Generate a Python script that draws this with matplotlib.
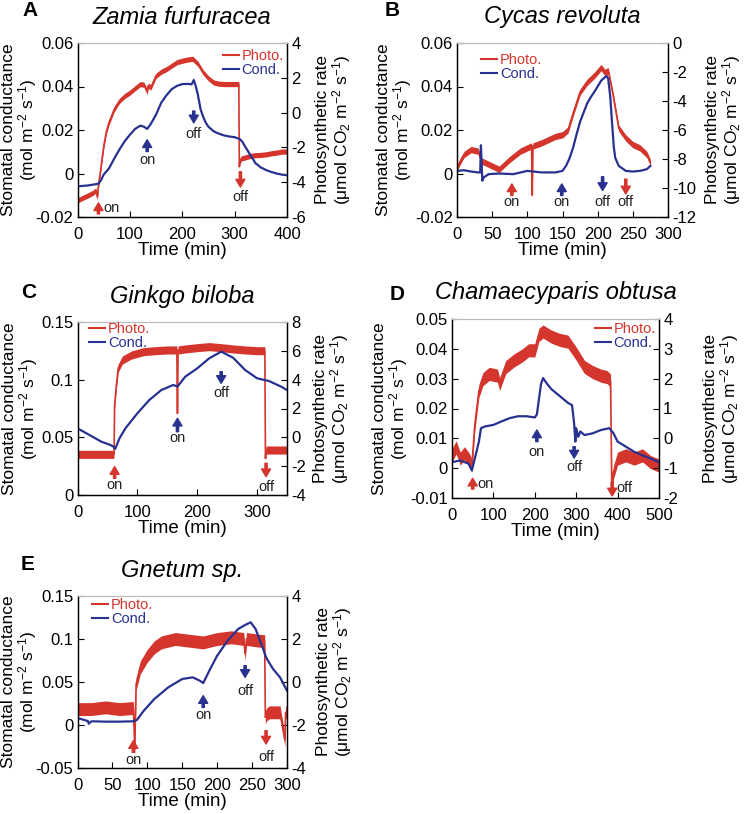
import matplotlib
matplotlib.use("Agg")
import matplotlib.pyplot as plt
from matplotlib.lines import Line2D
import numpy as np

plt.rcParams['font.family'] = ['Liberation Sans', 'DejaVu Sans']
plt.rcParams['mathtext.fontset'] = 'custom'
plt.rcParams['mathtext.rm'] = 'Liberation Sans'
plt.rcParams['mathtext.it'] = 'Liberation Sans:italic'

RED = '#d4352c'
BLUE = '#28318f'

# ---- A: Zamia furfuracea ----
cond_a_t = [0, 20, 40, 45, 50, 60, 70, 80, 90, 100, 110, 120, 127, 133, 140, 150, 160, 170, 180, 190,
            200, 210, 218, 222, 226, 230, 235, 240, 245, 250, 260, 270, 280, 290, 300, 310, 315, 320,
            330, 340, 350, 360, 370, 380, 390, 400]
cond_a = [-0.0059, -0.0055, -0.0047, -0.003, -0.0005, 0.0023, 0.0068, 0.011, 0.0148, 0.0178, 0.0205,
          0.022, 0.0215, 0.0205, 0.0228, 0.0271, 0.0326, 0.036, 0.0388, 0.0403, 0.0411, 0.0412, 0.041,
          0.043, 0.040, 0.036, 0.0295, 0.026, 0.0233, 0.0215, 0.0194, 0.0183, 0.0175, 0.017, 0.0167,
          0.0158, 0.0145, 0.0124, 0.0085, 0.0047, 0.0028, 0.0016, 0.0007, 0.0, -0.0005, -0.0008]
photo_a_t = [0, 10, 20, 30, 35, 38, 40, 45, 50, 55, 60, 70, 80, 90, 100, 110, 120, 127, 133, 135, 140,
             150, 160, 170, 180, 190, 200, 210, 220, 230, 240, 250, 260, 270, 280, 290, 300, 308, 309,
             310, 313, 320, 330, 340, 350, 360, 370, 380, 390, 400]
photo_a = [-5.05, -4.9, -4.76, -4.6, -4.47, -4.86, -4.2, -3.11, -1.95, -1.1, -0.59, 0.18, 0.67, 0.95,
           1.15, 1.4, 1.64, 1.6, 1.2, 1.55, 1.44, 2.12, 2.35, 2.5, 2.7, 2.9, 2.98, 3.05, 3.09, 2.8, 2.31,
           1.97, 1.73, 1.66, 1.64, 1.64, 1.64, 1.64, -3.11, -2.82, -2.63, -2.58, -2.49, -2.45, -2.43,
           -2.4, -2.34, -2.3, -2.24, -2.24]

# ---- B: Cycas revoluta ----
cond_b_t = [0, 10, 20, 30, 33, 34, 36, 38, 45, 60, 80, 100, 120, 140, 150, 155, 160, 165, 170, 175,
            180, 185, 190, 195, 200, 205, 210, 213, 215, 218, 220, 223, 225, 230, 240, 250, 260, 270, 275]
cond_b = [0.0012, 0.0015, 0.0009, 0.0005, 0.0005, 0.013, -0.0033, -0.0018, -0.0003, 0.0, -0.0003,
          0.0012, 0.0005, 0.0005, 0.0012, 0.0035, 0.007, 0.0118, 0.018, 0.0238, 0.028, 0.0322, 0.035,
          0.0374, 0.040, 0.0427, 0.0442, 0.0448, 0.0435, 0.035, 0.0254, 0.012, 0.0072, 0.0035, 0.0012,
          0.0009, 0.0012, 0.002, 0.0035]
photo_b_t = [0, 10, 20, 30, 35, 40, 50, 60, 65, 75, 90, 100, 106, 107, 108, 120, 140, 150, 158, 165,
             175, 185, 195, 205, 210, 215, 222, 230, 240, 250, 260, 270, 275]
photo_b = [-8.59, -7.69, -7.35, -7.46, -8.14, -8.25, -8.48, -8.71, -8.48, -8.03, -7.46, -7.23, -7.1,
           -10.5, -7.1, -6.89, -6.44, -6.33, -5.99, -4.86, -3.39, -2.71, -2.25, -1.69, -2.03, -1.91,
           -3.61, -5.88, -6.55, -7.01, -7.23, -7.69, -8.25]

# ---- C: Ginkgo biloba ----
cond_c_t = [0, 20, 40, 55, 60, 63, 70, 80, 100, 120, 140, 160, 167, 180, 200, 220, 240, 260, 280, 300,
            320, 340, 350]
cond_c = [0.0578, 0.052, 0.0462, 0.0434, 0.0419, 0.040, 0.049, 0.0578, 0.0708, 0.0824, 0.091, 0.0954,
          0.094, 0.1026, 0.1098, 0.1185, 0.1243, 0.119, 0.1084, 0.1012, 0.0988, 0.094, 0.091]
photo_c_t = [0, 20, 40, 61, 62, 65, 68, 75, 90, 110, 130, 150, 166, 167, 168, 180, 200, 220, 240, 260,
             280, 300, 313, 314, 315, 320, 335, 350]
photo_c = [-1.18, -1.18, -1.18, -1.18, 2.24, 3.63, 4.79, 5.36, 5.71, 5.94, 6.01, 6.06, 6.06, 1.66,
           6.06, 6.13, 6.22, 6.29, 6.22, 6.13, 6.06, 6.01, 6.01, -1.46, -0.88, -0.88, -0.88, -0.88]

# ---- D: Chamaecyparis obtusa ----
cond_d_t = [0, 20, 40, 48, 55, 65, 70, 80, 100, 120, 140, 160, 180, 200, 205, 215, 220, 230, 240, 260,
            280, 290, 295, 298, 300, 305, 310, 320, 340, 360, 380, 390, 400, 420, 440, 460, 480, 500]
cond_d = [0.002, 0.0026, 0.0015, -0.0008, 0.0032, 0.0089, 0.0134, 0.014, 0.0145, 0.0157, 0.0168,
          0.0174, 0.0174, 0.017, 0.018, 0.0282, 0.0302, 0.0282, 0.0265, 0.0242, 0.0219, 0.0211, 0.015,
          0.0089, 0.0134, 0.0105, 0.0123, 0.0111, 0.0117, 0.0128, 0.0134, 0.0117, 0.0089, 0.0072,
          0.0055, 0.0043, 0.0032, 0.002]
photo_d_t = [0, 10, 20, 30, 40, 48, 55, 65, 75, 90, 110, 115, 130, 150, 170, 185, 200, 210, 220, 240,
             260, 280, 300, 320, 340, 360, 375, 383, 386, 390, 400, 420, 440, 460, 480, 500]
photo_d = [-0.57, -0.3, -0.68, -0.5, -0.68, -0.91, 0.45, 1.59, 1.99, 2.16, 2.1, 1.82, 2.39, 2.61, 2.78,
           2.95, 2.95, 3.47, 3.58, 3.41, 3.3, 3.24, 2.84, 2.39, 2.22, 2.1, 2.05, 1.93, -1.7, -1.14,
           -0.68, -0.57, -0.68, -0.57, -0.8, -0.91]

# ---- E: Gnetum sp. ----
cond_e_t = [0, 10, 15, 16, 20, 40, 60, 80, 85, 95, 110, 130, 150, 165, 175, 180, 190, 200, 215, 230,
            240, 248, 255, 265, 270, 280, 290, 300]
cond_e = [0.0081, 0.0058, 0.0045, 0.0015, 0.0043, 0.0039, 0.0039, 0.0043, 0.0058, 0.0167, 0.0302,
          0.0438, 0.0535, 0.0554, 0.0516, 0.0488, 0.0651, 0.0806, 0.0981, 0.1116, 0.1163, 0.1194,
          0.1116, 0.0903, 0.0787, 0.0651, 0.0554, 0.0399]
photo_e_t = [0, 1, 2, 20, 40, 60, 80, 82, 84, 90, 100, 110, 120, 140, 160, 180, 200, 220, 238, 240,
             242, 260, 268, 269, 271, 275, 290, 297, 298, 300]
photo_e = [-3.2, -1.26, -1.26, -1.26, -1.18, -1.26, -1.21, -3.12, -0.09, 0.68, 1.22, 1.61, 1.84, 2.0,
           1.92, 1.84, 2.0, 2.08, 2.0, 1.3, 2.0, 1.92, 1.9, -1.64, -1.5, -1.41, -1.41, -2.7, -1.41, -1.41]

# light on/off markers: time, arrow tail, arrow tip, label y (conductance units), text, colour, label beside
marks_a = [(40, -0.0186, -0.0135, -0.0160, 'on', RED, True), (133, 0.0101, 0.0155, 0.0062, 'on', BLUE, False),
           (222, 0.0287, 0.0233, 0.0181, 'off', BLUE, False), (311, 0.0008, -0.0062, -0.0109, 'off', RED, False)]
marks_b = [(78, -0.0101, -0.0048, -0.0131, 'on', RED, False), (149, -0.0101, -0.0048, -0.0131, 'on', BLUE, False),
           (207, -0.0015, -0.0078, -0.0131, 'off', BLUE, False), (240, -0.0026, -0.0094, -0.0131, 'off', RED, False)]
marks_c = [(62, 0.0145, 0.0246, 0.0087, 'on', RED, False), (167, 0.0549, 0.0665, 0.0497, 'on', BLUE, False),
           (240, 0.1069, 0.0968, 0.0882, 'off', BLUE, False), (315, 0.0275, 0.0159, 0.0072, 'off', RED, False)]
marks_d = [(50, -0.0070, -0.0034, -0.0053, 'on', RED, True), (205, 0.0089, 0.0128, 0.0055, 'on', BLUE, False),
           (295, 0.0072, 0.0034, 0.0003, 'off', BLUE, False), (387, -0.0048, -0.0093, -0.0068, 'off', RED, True)]
marks_e = [(80, -0.0318, -0.0182, -0.0407, 'on', RED, False), (180, 0.0205, 0.0341, 0.0120, 'on', BLUE, False),
           (240, 0.0690, 0.0554, 0.0399, 'off', BLUE, False), (270, -0.0066, -0.0221, -0.0376, 'off', RED, False)]

W, H = 744, 814
fig = plt.figure(figsize=(W / 100, H / 100), dpi=100)


def px_axes(x0, x1, y0, y1):
    return fig.add_axes([x0 / W, 1 - y1 / H, (x1 - x0) / W, (y1 - y0) / H])


def panel(box, letter, title, ct, cv, pt, pv, spread, marks, xlim, xticks, ylim, yticks, ylim2,
          yticks2, leg_loc, leg_anchor, lab_left=20, lab_right=333):
    x0, x1, y0, y1 = box
    ax = px_axes(x0, x1, y0, y1)
    ax2 = ax.twinx()
    ax.set_zorder(ax2.get_zorder() + 1)
    ax.patch.set_visible(False)

    pt = np.array(pt)
    pv = np.array(pv)
    ax2.fill_between(pt, pv - spread, pv + spread, color=RED, lw=0)
    ax2.plot(pt, pv, color=RED, lw=1.2)
    ax.plot(ct, cv, color=BLUE, lw=1.6)

    for t, tail, tip, ly, txt, col, beside in marks:
        ax.annotate('', xy=(t, tip), xytext=(t, tail),
                    arrowprops=dict(facecolor=col, edgecolor=col, width=1.6, headwidth=6.5,
                                    headlength=5.5, shrink=0))
        if beside:
            ax.text(t + (xlim[1] - xlim[0]) * 0.022, ly, txt, fontsize=10.5, color='#222222',
                    ha='left', va='center')
        else:
            ax.text(t, ly, txt, fontsize=10.5, color='#222222', ha='center', va='center')

    ax.set_xlim(*xlim)
    ax.set_ylim(*ylim)
    ax2.set_ylim(*ylim2)
    ax.set_xticks(xticks)
    ax.set_yticks(yticks)
    ax2.set_yticks(yticks2)
    ax.set_yticklabels([('%g' % v) for v in yticks])
    ax2.set_yticklabels([('%g' % v) for v in yticks2])
    for a in (ax, ax2):
        a.tick_params(direction='in', length=4, width=0.8, labelsize=12, pad=3)
        a.spines['top'].set_color('#bbbbbb')
        for s in ('left', 'right', 'bottom'):
            a.spines[s].set_linewidth(0.9)
    ax.tick_params(axis='x', pad=7)
    ax.tick_params(right=False, top=False)
    ax.set_xlabel('Time (min)', fontsize=13.5, labelpad=0)

    handles = [Line2D([], [], color=RED, lw=1.5), Line2D([], [], color=BLUE, lw=1.5)]
    ax.legend(handles, ['Photo.', 'Cond.'], loc=leg_loc, bbox_to_anchor=leg_anchor, frameon=False,
              fontsize=10.5, handlelength=1.1, handletextpad=0.2, labelspacing=0.0, borderpad=0,
              borderaxespad=0, labelcolor=[RED, BLUE])

    yc = (y0 + y1) / 2
    fig.text(lab_left / W, 1 - yc / H, 'Stomatal conductance\n(mol m$^{-2}$ s$^{-1}$)', rotation=90,
             ha='center', va='center', multialignment='center', fontsize=12.5, linespacing=0.95)
    fig.text(lab_right / W, 1 - yc / H, 'Photosynthetic rate\n(μmol CO$_2$ m$^{-2}$ s$^{-1}$)',
             rotation=90, ha='center', va='center', multialignment='center', fontsize=12.5,
             linespacing=0.95)
    fig.text((x0 + x1) / 2 / W, 1 - (y0 - 26) / H, title, style='italic', fontsize=17,
             ha='center', va='center')
    fig.text(letter[1] / W, 1 - letter[2] / H, letter[0], fontweight='bold', fontsize=15,
             ha='center', va='center')
    return ax, ax2


panel((77.5, 287, 43, 217), ('A', 30, 11), 'Zamia furfuracea', cond_a_t, cond_a, photo_a_t, photo_a,
      0.15, marks_a, (0, 400), [0, 100, 200, 300, 400], (-0.02, 0.06), [-0.02, 0, 0.02, 0.04, 0.06],
      (-6, 4), [-6, -4, -2, 0, 2, 4], 'upper right', (0.985, 0.965), lab_left=20, lab_right=334)

panel((457, 668, 43, 217), ('B', 392, 11), 'Cycas revoluta', cond_b_t, cond_b, photo_b_t, photo_b,
      0.22, marks_b, (0, 300), [0, 50, 100, 150, 200, 250, 300], (-0.02, 0.06),
      [-0.02, 0, 0.02, 0.04, 0.06], (-12, 0), [-12, -10, -8, -6, -4, -2, 0], 'upper left',
      (0.115, 0.94), lab_left=395, lab_right=724)

panel((77.5, 287, 322, 495), ('C', 29, 293), 'Ginkgo biloba', cond_c_t, cond_c, photo_c_t, photo_c,
      0.28, marks_c, (0, 350), [0, 100, 200, 300], (0, 0.15), [0, 0.05, 0.1, 0.15], (-4, 8),
      [-4, -2, 0, 2, 4, 6, 8], 'upper left', (0.055, 1.0), lab_left=21, lab_right=332)

panel((452, 659, 319, 498), ('D', 397, 294), 'Chamaecyparis obtusa', cond_d_t, cond_d, photo_d_t,
      photo_d, 0.22, marks_d, (0, 500), [0, 100, 200, 300, 400, 500], (-0.01, 0.05),
      [-0.01, 0, 0.01, 0.02, 0.03, 0.04, 0.05], (-2, 4), [-2, -1, 0, 1, 2, 3, 4], 'upper right',
      (0.985, 0.985), lab_left=391, lab_right=722)

panel((77.5, 287, 596, 768), ('E', 28, 565), 'Gnetum sp.', cond_e_t, cond_e, photo_e_t, photo_e,
      0.3, marks_e, (0, 300), [0, 50, 100, 150, 200, 250, 300], (-0.05, 0.15),
      [-0.05, 0, 0.05, 0.1, 0.15], (-4, 4), [-4, -2, 0, 2, 4], 'upper left', (0.07, 0.99),
      lab_left=20, lab_right=335)

fig.savefig('out.png', dpi=100)
